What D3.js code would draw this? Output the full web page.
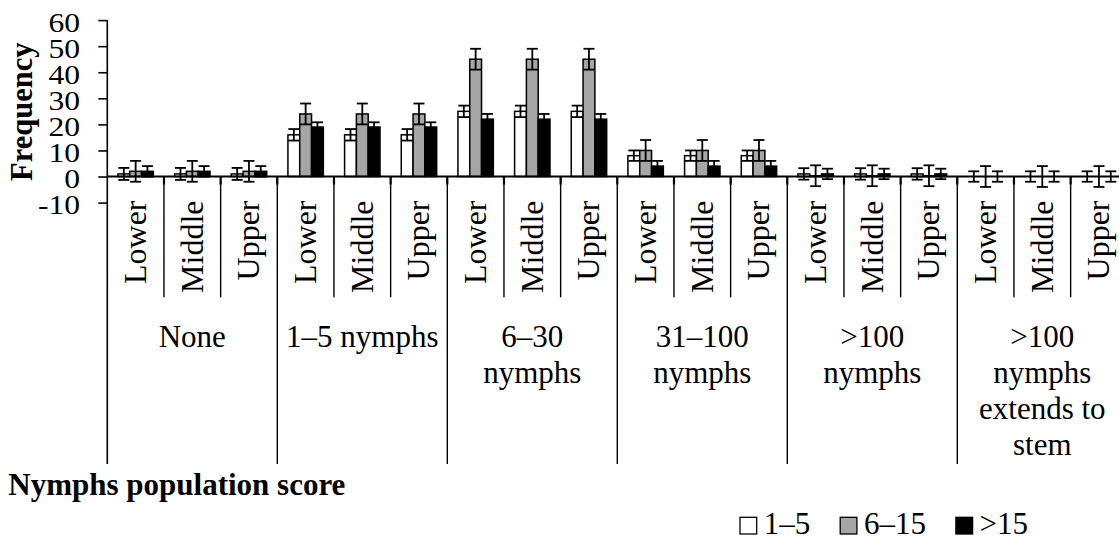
<!DOCTYPE html>
<html>
<head>
<meta charset="utf-8">
<script src="https://cdn.jsdelivr.net/npm/d3@7"></script>
<style>
  html, body { margin: 0; padding: 0; background: #fff; }
  svg { display: block; font-family: "Liberation Serif", "Times New Roman", serif; }
</style>
</head>
<body>
<svg id="chart" width="1119" height="540"></svg>
<script>
// ---- data ----
const groupLines = [
  ["None"],
  ["1–5 nymphs"],
  ["6–30", "nymphs"],
  ["31–100", "nymphs"],
  [">100", "nymphs"],
  [">100", "nymphs", "extends to", "stem"]
];
const positions = ["Lower", "Middle", "Upper"];
const seriesNames = ["1–5", "6–15", ">15"];
const seriesColors = ["#ffffff", "#a6a6a6", "#000000"];

// one value per group × position (Lower, Middle, Upper)
const valuesLow  = [1, 1, 1,   16, 16, 16,   25, 25, 25,   8, 8, 8,     1, 1, 1,   0, 0, 0];
const errorsLow  = [2.3, 2.3, 2.3, 2.2, 2.2, 2.2, 2.2, 2.2, 2.2, 2, 2, 2, 2.2, 2.2, 2.2, 2, 2, 2];
const valuesMid  = [2, 2, 2,   24, 24, 24,   45, 45, 45,   10, 10, 10,  0.3, 0.3, 0.3, 0, 0, 0];
const errorsMid  = [4, 4, 4,   4, 4, 4,     4, 4, 4,     4, 4, 4,     4, 4, 4,   4, 4, 4];
const valuesHigh = [2, 2, 2,   19, 19, 19,   22, 22, 22,   4, 4, 4,     1, 1, 1,   0, 0, 0];
const errorsHigh = [2, 2, 2,   1.8, 1.8, 1.8, 2, 2, 2,    2, 2, 2,     2, 2, 2,   2, 2, 2];

const yTicks = [-10, 0, 10, 20, 30, 40, 50, 60];

const seriesValues = [valuesLow, valuesMid, valuesHigh];
const seriesErrors = [errorsLow, errorsMid, errorsHigh];

// ---- layout ----
const svg = d3.select("#chart");
const plotLeft = 107.3, plotRight = 1127.3;
const subLineBottom = 297.3, groupLineBottom = 464;

const cats = [];
groupLines.forEach((g, gi) => positions.forEach((p, pi) => cats.push({ key: gi + "-" + pi, group: gi, pos: p })));

const x0 = d3.scaleBand().domain(cats.map(c => c.key)).range([plotLeft, plotRight]);
const x1 = d3.scaleBand().domain(seriesNames).range([0, x0.bandwidth()]).paddingOuter(0.9);
const y = d3.scaleLinear().domain([-10, 60]).range([202.6, 20.1]);
const y0 = y(0);

// ---- y axis ----
const yAxis = d3.axisLeft(y).tickValues(yTicks).tickSize(9).tickFormat(d3.format("d"));
const yg = svg.append("g").attr("transform", `translate(${plotLeft},0)`).call(yAxis);
yg.select(".domain").remove();
yg.selectAll(".tick line").attr("stroke", "#000").attr("stroke-width", 1.6);
yg.selectAll(".tick text").remove();
svg.append("line").attr("x1", plotLeft).attr("x2", plotLeft)
  .attr("y1", y(60)).attr("y2", groupLineBottom).attr("stroke", "#000").attr("stroke-width", 1.6);

svg.append("g").selectAll("text").data(yTicks).join("text")
  .attr("transform", d => `translate(80,${y(d) + 11.6}) scale(1.17,1)`)
  .attr("text-anchor", "end")
  .attr("font-size", 27)
  .attr("fill", "#000")
  .text(d => d3.format("d")(d).replace("−", "-"));

svg.append("text")
  .attr("transform", `translate(31.5,111.7) rotate(-90)`)
  .attr("text-anchor", "middle")
  .attr("font-size", 30.5)
  .attr("font-weight", "bold")
  .text("Frequency");

// ---- category axis: sub dividers, group dividers, labels ----
const catG = svg.append("g");
cats.forEach((c, i) => {
  const xl = x0(c.key);
  if (i > 0) {
    const isGroupEdge = i % positions.length === 0;
    catG.append("line").attr("x1", xl).attr("x2", xl)
      .attr("y1", y0).attr("y2", isGroupEdge ? groupLineBottom : subLineBottom)
      .attr("stroke", "#000").attr("stroke-width", 1.4);
    catG.append("line").attr("x1", xl).attr("x2", xl)
      .attr("y1", y0).attr("y2", y0 + 8)
      .attr("stroke", "#000").attr("stroke-width", 2.2);
  }
  catG.append("text")
    .attr("transform", `translate(${xl + x0.bandwidth() / 2 + 10.5},200.5) rotate(-90)`)
    .attr("text-anchor", "end")
    .attr("font-size", 32)
    .text(c.pos);
});
// closing line of the last group
catG.append("line").attr("x1", plotRight).attr("x2", plotRight)
  .attr("y1", y0).attr("y2", groupLineBottom).attr("stroke", "#000").attr("stroke-width", 1.4);

groupLines.forEach((lines, gi) => {
  const gx0 = x0(gi + "-0");
  const gx1 = x0(gi + "-" + (positions.length - 1)) + x0.bandwidth();
  const t = catG.append("text")
    .attr("text-anchor", "middle")
    .attr("font-size", 31);
  lines.forEach((ln, li) => {
    t.append("tspan").attr("x", (gx0 + gx1) / 2).attr("y", 346.7 + li * 36.2).text(ln);
  });
});

svg.append("text")
  .attr("x", 8.3).attr("y", 495)
  .attr("font-size", 31)
  .attr("font-weight", "bold")
  .text("Nymphs population score");

// ---- bars ----
const barG = svg.append("g");
seriesNames.forEach((s, si) => {
  barG.append("g").selectAll("rect")
    .data(cats.map((c, i) => ({ c, v: seriesValues[si][i] })).filter(d => d.v !== 0))
    .join("rect")
    .attr("x", d => x0(d.c.key) + x1(s))
    .attr("y", d => y(Math.max(d.v, 0)))
    .attr("width", x1.bandwidth())
    .attr("height", d => Math.abs(y(d.v) - y0))
    .attr("fill", seriesColors[si])
    .attr("stroke", "#000")
    .attr("stroke-width", 1.5);
});

// ---- zero line ----
svg.append("line").attr("x1", plotLeft).attr("x2", plotRight)
  .attr("y1", y0).attr("y2", y0).attr("stroke", "#000").attr("stroke-width", 2);

// ---- error bars ----
const errG = svg.append("g").attr("stroke", "#000").attr("stroke-width", 1.8);
const capW = 11;
seriesNames.forEach((s, si) => {
  cats.forEach((c, i) => {
    const v = seriesValues[si][i], e = seriesErrors[si][i];
    const cx = x0(c.key) + x1(s) + x1.bandwidth() / 2;
    errG.append("line").attr("x1", cx).attr("x2", cx).attr("y1", y(v - e)).attr("y2", y(v + e));
    [v - e, v + e].forEach(yy => {
      errG.append("line").attr("x1", cx - capW / 2).attr("x2", cx + capW / 2)
        .attr("y1", y(yy)).attr("y2", y(yy));
    });
  });
});

// ---- legend ----
const legend = svg.append("g");
let lx = 740;
const sq = 16.7;
seriesNames.forEach((s, si) => {
  legend.append("rect").attr("x", lx).attr("y", 517.3).attr("width", sq).attr("height", sq)
    .attr("fill", seriesColors[si]).attr("stroke", "#000").attr("stroke-width", 1.3);
  const t = legend.append("text").attr("x", lx + sq + 7).attr("y", 534)
    .attr("font-size", 31).text(s);
  lx = lx + sq + 7 + t.node().getComputedTextLength() + 30;
});
</script>
</body>
</html>
